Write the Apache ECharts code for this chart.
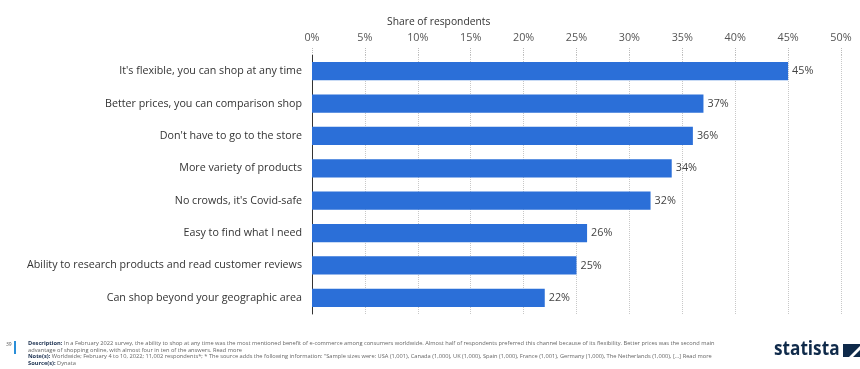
<!DOCTYPE html>
<html><head><meta charset="utf-8">
<script src="https://cdn.jsdelivr.net/npm/echarts@6/dist/echarts.min.js"></script>
<style>html,body{margin:0;padding:0;background:#fff}#c{width:860px;height:369px}</style>
</head><body><div id="c"></div>
<script>
const categories = [
  "It's flexible, you can shop at any time",
  "Better prices, you can comparison shop",
  "Don't have to go to the store",
  "More variety of products",
  "No crowds, it's Covid-safe",
  "Easy to find what I need",
  "Ability to research products and read customer reviews",
  "Can shop beyond your geographic area"
];
const shares = [45, 37, 36, 34, 32, 26, 25, 22];
const axisTitle = "Share of respondents";
const footerLines = [
  ["Description:", " In a February 2022 survey, the ability to shop at any time was the most mentioned benefit of e-commerce among consumers worldwide. Almost half of respondents preferred this channel because of its flexibility. Better prices was the second main"],
  ["", "advantage of shopping online, with almost four in ten of the answers. ", "Read more"],
  ["Note(s):", " Worldwide; February 4 to 10, 2022; 11,002 respondents*; * The source adds the following information: \"Sample sizes were: USA (1,001), Canada (1,000), UK (1,000), Spain (1,000), France (1,001), Germany (1,000), The Netherlands (1,000), [...] ", "Read more"],
  ["Source(s):", " Dynata"]
];
const font = "'Open Sans', 'Noto Sans', sans-serif";
const chart = echarts.init(document.getElementById('c'));
const footerGraphics = footerLines.map((l, i) => ({
  type: 'text', left: 28, top: 340.5 + i * 6.5,
  style: {
    rich: {
      b: { fontWeight: 'bold', fontSize: 5.7, fill: '#1a2f4f', fontFamily: font },
      n: { fontSize: 5.7, fill: '#666', fontFamily: font },
      u: { fontSize: 5.7, fill: '#666', fontFamily: font, textDecoration: 'underline' }
    },
    text: (l[0] ? '{b|' + l[0] + '}' : '') + '{n|' + l[1] + '}' + (l[2] ? '{u|' + l[2] + '}' : '')
  }
}));
chart.setOption({
  animation: false,
  title: { text: axisTitle, left: 382, top: 12, textStyle: { fontSize: 10.3, fontWeight: 'normal', color: '#333', fontFamily: font } },
  grid: { left: 312, right: 19, top: 55, bottom: 55, containLabel: false },
  xAxis: {
    type: 'value', position: 'top', min: 0, max: 50, interval: 5,
    axisLabel: { formatter: '{value}%', color: '#555', fontSize: 10.8, fontFamily: font, margin: 12 },
    axisLine: { show: false },
    axisTick: { show: true, length: 8, lineStyle: { color: '#bbb', type: 'dotted' } },
    splitLine: { show: true, lineStyle: { color: '#c8c8c8', type: 'dotted' } }
  },
  yAxis: {
    type: 'category', data: categories, inverse: true,
    axisLine: { show: true, lineStyle: { color: '#333', width: 1 } },
    axisTick: { show: false },
    axisLabel: { color: '#333', fontSize: 10.7, fontFamily: font, margin: 10 }
  },
  series: [{
    type: 'bar', data: shares, barWidth: '56%',
    itemStyle: { color: '#2b6fd8' },
    label: { show: true, position: 'right', formatter: '{c}%', color: '#444', fontSize: 10.8, fontFamily: font, distance: 4 }
  }],
  graphic: [
    { type: 'text', left: 6, top: 342, style: { text: '39', fontSize: 5, fill: '#555', fontFamily: font } },
    { type: 'rect', shape: { x: 14, y: 341, width: 2, height: 13 }, style: { fill: '#2b8fd8' } },
    ...footerGraphics,
    { type: 'text', x: 774, y: 339, scaleX: 0.86, scaleY: 1, style: { x: 0, y: 0, text: 'statista', fontSize: 20, fontWeight: 'bold', fill: '#0f2a4a', fontFamily: "'Open Sans', sans-serif" } },
    { type: 'polygon', shape: { points: [[843, 344], [860, 344], [860, 346], [849, 357], [843, 357]] }, style: { fill: '#0f2a4a' } },
    { type: 'polygon', shape: { points: [[860, 350], [860, 357], [853, 357]] }, style: { fill: '#0f2a4a' } }
  ]
});
</script></body></html>
